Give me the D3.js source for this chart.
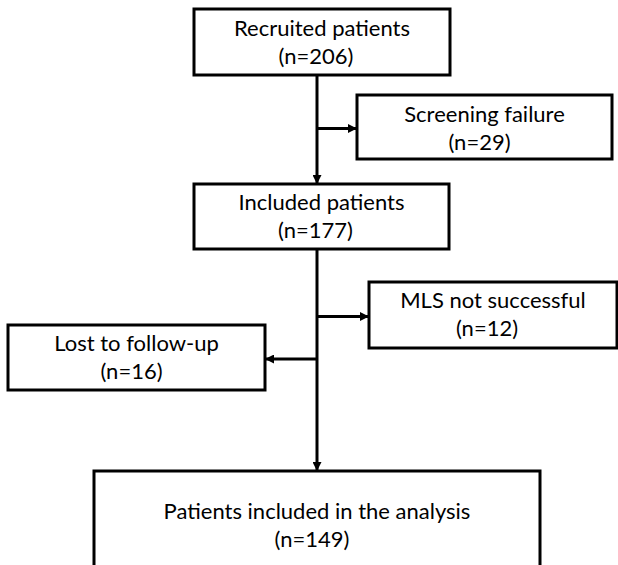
<!DOCTYPE html>
<html>
<head>
<meta charset="utf-8">
<script src="https://cdn.jsdelivr.net/npm/d3@7"></script>
<style>
  html, body { margin: 0; padding: 0; background: #fff; }
  svg { display: block; }
  text { font-family: Lato, "Open Sans", sans-serif; fill: #000; }
</style>
</head>
<body>
<svg width="618" height="565"></svg>
<script>
(function (d3) {
    'use strict';

    // flow stages
    const stageIds = ['recruited', 'screening', 'included', 'mls', 'lost', 'analysis'];
    const stageLabels = ['Recruited patients', 'Screening failure', 'Included patients',
                         'MLS not successful', 'Lost to follow-up', 'Patients included in the analysis'];
    const stageCounts = [206, 29, 177, 12, 16, 149];
    // links: from -> to
    const linkFrom = ['recruited', 'recruited', 'included', 'included', 'included'];
    const linkTo = ['included', 'screening', 'analysis', 'mls', 'lost'];

    const svg = d3.select('svg');
    const spineX = 317;

    // box geometry (layout only)
    const layout = {
        recruited: {x: 194, y: 9,   w: 256, h: 66,  t1: 27, t2: 55, dx2: -6},
        screening: {x: 357, y: 95,  w: 255, h: 64,  t1: 27, t2: 55, dx2: -5},
        included:  {x: 194, y: 184, w: 255, h: 65,  t1: 26, t2: 54, dx2: -6},
        mls:       {x: 369, y: 282, w: 248, h: 66,  t1: 26, t2: 54, dx2: -6},
        lost:      {x: 8,   y: 325, w: 257, h: 65,  t1: 26, t2: 54, dx2: -5},
        analysis:  {x: 94,  y: 471, w: 446, h: 140, t1: 48, t2: 76, dx2: -5}
    };

    const nodes = stageIds.map((id, i) => Object.assign({
        id: id, label: stageLabels[i], n: stageCounts[i]
    }, layout[id]));
    const byId = {};
    nodes.forEach(d => { byId[d.id] = d; });

    svg.append('defs').append('marker')
        .attr('id', 'arrow')
        .attr('viewBox', '0 0 10 10')
        .attr('refX', 10)
        .attr('refY', 5)
        .attr('markerUnits', 'userSpaceOnUse')
        .attr('markerWidth', 9)
        .attr('markerHeight', 9)
        .attr('orient', 'auto')
        .append('path')
        .attr('d', 'M0,0L10,5L0,10Z')
        .attr('fill', '#000');

    // vertical spine segments and side branches
    const links = linkFrom.map((f, i) => {
        const a = byId[f], b = byId[linkTo[i]];
        const y = b.y + b.h / 2 + 1.5;
        if (b.x > spineX) return [[spineX, y], [b.x, y]];            // branch right
        if (b.x + b.w < spineX) return [[spineX, y], [b.x + b.w, y]]; // branch left
        return [[spineX, a.y + a.h], [spineX, b.y]];
    });

    svg.selectAll('path.link').data(links)
        .enter().append('path')
        .attr('class', 'link')
        .attr('d', d3.line())
        .attr('fill', 'none')
        .attr('stroke', '#000')
        .attr('stroke-width', 3)
        .attr('marker-end', 'url(#arrow)');

    const g = svg.selectAll('g.node').data(nodes)
        .enter().append('g')
        .attr('class', 'node')
        .attr('transform', d => `translate(${d.x},${d.y})`);

    g.append('rect')
        .attr('width', d => d.w)
        .attr('height', d => d.h)
        .attr('fill', '#fff')
        .attr('stroke', '#000')
        .attr('stroke-width', 3);

    g.append('text')
        .attr('x', d => d.w / 2)
        .attr('y', d => d.t1)
        .attr('text-anchor', 'middle')
        .attr('font-size', 22)
        .text(d => d.label);

    g.append('text')
        .attr('x', d => d.w / 2 + d.dx2)
        .attr('y', d => d.t2)
        .attr('text-anchor', 'middle')
        .attr('font-size', 22)
        .text(d => `(n=${d.n})`);
}(d3));
</script>
</body>
</html>
